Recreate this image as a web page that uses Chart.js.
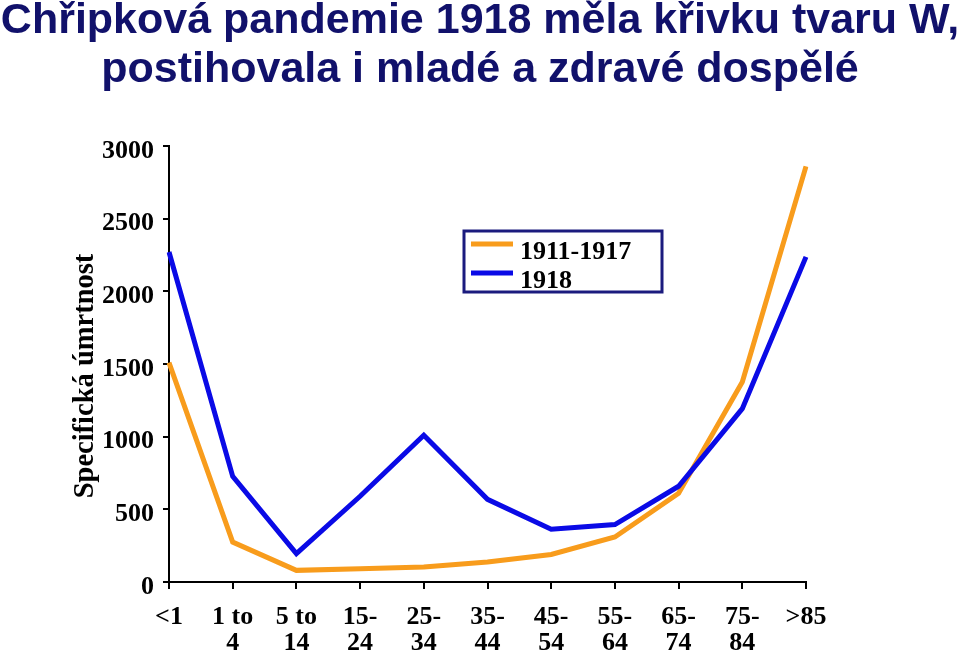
<!DOCTYPE html>
<html lang="cs">
<head>
<meta charset="utf-8">
<title>Chřipková pandemie 1918</title>
<script src="https://cdn.jsdelivr.net/npm/chart.js@4/dist/chart.umd.min.js"></script>
<style>
  html, body { margin: 0; padding: 0; background: #fff; }
  #wrap { width: 960px; height: 653px; }
</style>
</head>
<body>
<div id="wrap"><canvas id="chart" width="960" height="653"></canvas></div>
<script>
const TITLE_LINES = ['Chřipková pandemie 1918 měla křivku tvaru W,', 'postihovala i mladé a zdravé dospělé'];
const Y_TITLE = 'Specifická úmrtnost';

const AGE_GROUPS = ['<1', ['1 to', '4'], ['5 to', '14'], ['15-', '24'], ['25-', '34'], ['35-', '44'],
  ['45-', '54'], ['55-', '64'], ['65-', '74'], ['75-', '84'], '>85'];
const SERIES_NAMES = ['1911-1917', '1918'];
const RATE_1911_1917 = [1510, 275, 80, 92, 103, 138, 189, 310, 610, 1376, 2860];
const RATE_1918 = [2271, 727, 195, 590, 1010, 569, 363, 395, 659, 1193, 2237];
const Y_MIN = 0, Y_MAX = 3000, Y_STEP = 500;

const ORANGE = '#F89C1C';
const BLUE = '#0A0AE6';
const NAVY = '#11116B';
const SERIF = '"Liberation Serif", "Times New Roman", serif';

// title, rotated y title and the boxed legend
const decorations = {
  id: 'decorations',
  afterDraw(chart) {
    const { ctx, chartArea } = chart;
    ctx.save();
    ctx.fillStyle = NAVY;
    ctx.font = 'bold 43px "Liberation Sans", Arial, sans-serif';
    ctx.textAlign = 'center';
    ctx.textBaseline = 'alphabetic';
    TITLE_LINES.forEach((t, i) => ctx.fillText(t, chart.width / 2, 33 + i * 49));

    ctx.save();
    ctx.translate(86, 376);
    ctx.rotate(-Math.PI / 2);
    ctx.fillStyle = '#000';
    ctx.font = 'bold 28.5px ' + SERIF;
    ctx.textBaseline = 'middle';
    ctx.fillText(Y_TITLE, 0, 0);
    ctx.restore();

    const bx = chartArea.left + 295, by = chartArea.top + 85;
    ctx.strokeStyle = '#1B1B7E';
    ctx.lineWidth = 3;
    ctx.strokeRect(bx, by, 198, 61);
    ctx.font = 'bold 26px ' + SERIF;
    ctx.textAlign = 'left';
    ctx.fillStyle = '#000';
    chart.data.datasets.forEach((ds, i) => {
      const ly = by + 13 + i * 29;
      ctx.strokeStyle = ds.borderColor;
      ctx.lineWidth = 5;
      ctx.beginPath();
      ctx.moveTo(bx + 7, ly);
      ctx.lineTo(bx + 49, ly);
      ctx.stroke();
      ctx.fillText(ds.label, bx + 56, ly + 15);
    });
    ctx.restore();
  }
};

new Chart(document.getElementById('chart'), {
  type: 'line',
  data: {
    labels: AGE_GROUPS,
    datasets: [
      { label: SERIES_NAMES[0], data: RATE_1911_1917, borderColor: ORANGE, order: 1 },
      { label: SERIES_NAMES[1], data: RATE_1918, borderColor: BLUE, order: 0 }
    ]
  },
  options: {
    responsive: false,
    animation: false,
    devicePixelRatio: 1,
    layout: { padding: { top: 146, right: 154, bottom: 0, left: 0 } },
    elements: {
      line: { borderWidth: 5, tension: 0, fill: false },
      point: { radius: 0, hoverRadius: 0 }
    },
    plugins: {
      legend: { display: false },
      title: { display: false },
      tooltip: { enabled: false }
    },
    scales: {
      x: {
        offset: false,
        afterFit(scale) { scale.height = 71; },
        grid: { drawOnChartArea: false, color: '#000', lineWidth: 2, tickLength: 7 },
        border: { color: '#000', width: 2 },
        ticks: {
          color: '#000',
          padding: 16,
          maxRotation: 0,
          autoSkip: false,
          font: { family: SERIF, size: 26, weight: 'bold', lineHeight: 0.97 }
        }
      },
      y: {
        min: Y_MIN,
        max: Y_MAX,
        afterFit(scale) { scale.width = 169; },
        grid: { drawOnChartArea: false, color: '#000', lineWidth: 2, tickLength: 6 },
        border: { color: '#000', width: 2 },
        ticks: {
          stepSize: Y_STEP,
          color: '#000',
          padding: 9,
          labelOffset: 5,
          callback: v => String(v),
          font: { family: SERIF, size: 26, weight: 'bold' }
        }
      }
    }
  },
  plugins: [decorations]
});
</script>
</body>
</html>
